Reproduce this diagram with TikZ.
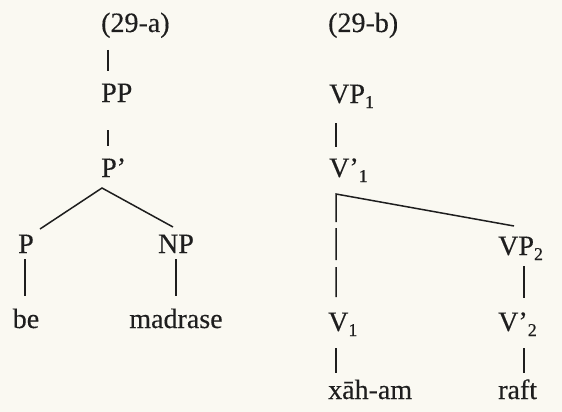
\documentclass[tikz,border=0pt]{standalone}
\usepackage{fontspec}
\setmainfont{Liberation Serif}
\newfontfamily\treefam[Ligatures=TeX,FakeBold=0.3]{Liberation Serif}
\definecolor{paper}{RGB}{250,249,242}
\definecolor{ink}{RGB}{30,30,30}
\newcommand{\treefont}{\treefam\fontsize{28}{30}\selectfont}
\newcommand{\subidx}[1]{\raisebox{-5pt}{\fontsize{18}{18}\selectfont #1}}
\begin{document}
\begin{tikzpicture}[x=1pt,y=-1pt,
    lbl/.style = {inner sep=0pt, text=ink, font=\treefont},
    branch/.style = {line width=1.5pt, draw=ink}]
  \useasboundingbox (0,0) rectangle (562,412);
  \fill[paper] (0,0) rectangle (562,412);
  % (29-a)
  \node[lbl, anchor=base west] (exa) at (101,32) {(29-a)};
  \node[lbl, anchor=base west] (pp) at (101,102) {PP};
  \node[lbl, anchor=base west] (pbar) at (101,177) {P'};
  \node[lbl, anchor=base] (p) at (26,253) {P};
  \node[lbl, anchor=base] (np) at (176,253) {NP};
  \node[lbl, anchor=base] (be) at (26,328) {be};
  \node[lbl, anchor=base] (madrase) at (176,328) {madrase};
  \draw[branch] ([shift={(7,18)}]exa.base west) -- ([shift={(7,-31)}]pp.base west);
  \draw[branch] ([shift={(7,28)}]pp.base west) -- ([shift={(7,-31)}]pbar.base west);
  \draw[branch] ([shift={(14,-24)}]p.base) -- ([shift={(1,11)}]pbar.base west)
                -- ([shift={(-3,-26)}]np.base);
  \draw[branch] ([shift={(-1,6)}]p.base) -- ([shift={(-1,-32)}]be.base);
  \draw[branch] ([shift={(0,6)}]np.base) -- ([shift={(0,-32)}]madrase.base);
  % (29-b)
  \node[lbl, anchor=base west] (exb) at (328,32) {(29-b)};
  \node[lbl, anchor=base west] (vpa) at (329,103) {VP\subidx{1}};
  \node[lbl, anchor=base west] (vbara) at (329,177) {V'\subidx{1}};
  \node[lbl, anchor=base west] (vpb) at (498,255) {VP\subidx{2}};
  \node[lbl, anchor=base west] (va) at (328,331) {V\subidx{1}};
  \node[lbl, anchor=base west] (vbarb) at (498,331) {V'\subidx{2}};
  \node[lbl, anchor=base west] (xaham) at (328,399) {xāh-am};
  \node[lbl, anchor=base west] (raft) at (498,399) {raft};
  \coordinate (fork) at ([shift={(7,17)}]vbara.base west);
  \draw[branch] ([shift={(7,20)}]vpa.base west) -- ([shift={(7,-30)}]vbara.base west);
  \draw[branch, dash pattern={on 209pt off 6pt on 32pt off 7pt on 30pt off 20pt}]
    ([shift={(16,-29)}]vpb.base west) -- (fork) -- ([shift={(8,-34)}]va.base west);
  \draw[branch] ([shift={(26,11)}]vpb.base west) -- ([shift={(26,-33)}]vbarb.base west);
  \draw[branch] ([shift={(8,17)}]va.base west) -- ([shift={(8,-26)}]xaham.base west);
  \draw[branch] ([shift={(26,17)}]vbarb.base west) -- ([shift={(26,-26)}]raft.base west);
\end{tikzpicture}
\end{document}
